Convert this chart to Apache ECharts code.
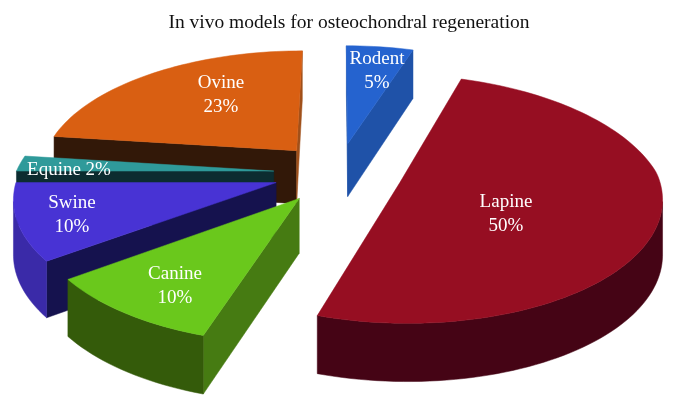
<!DOCTYPE html>
<html>
<head>
<meta charset="utf-8">
<style>
  html, body { margin: 0; padding: 0; background: #fff; }
  #chart { width: 676px; height: 410px; }
</style>
<script src="https://cdn.jsdelivr.net/npm/echarts@6/dist/echarts.min.js"></script>
</head>
<body>
<div id="chart"></div>
<script>
const categories = ['Rodent', 'Lapine', 'Canine', 'Swine', 'Equine', 'Ovine']
const percents = [5, 50, 10, 10, 2, 23]

const topColors = ['#2563cf', '#960e22', '#6ac81c', '#4833d4', '#2f9a9a', '#d95f12']
const rimColors = ['#1f52a8', '#450415', '#345b0a', '#3a2aa8', '#0c2c30', '#a0501a']
const startFaceColors = ['#1f52a8', '#450415', '#467b12', '#15124e', '#0c2c30', '#321808']
const endFaceColors = ['#1f52a8', '#450415', '#467b12', '#15124e', '#0c2c30', '#a0501a']

// label anchors, px
const labelX = [377, 506, 175, 72, 69, 221]
const labelY = [71, 214, 286, 215, 170, 95]

// fake 3d: ellipse plus a bit of perspective, front is bigger than back
const cx = 338
const cy = 173
const radius = 258
const squash = 123
const perspectiveBack = 0.165
const perspectiveFront = 0.11
const explode = 0.25
const depth = 54

const total = percents.reduce((a, b) => a + b, 0)

function project (x, y) {
  const w = 1 / (1 - y * (y < 0 ? perspectiveBack : perspectiveFront))
  return {
    top: [cx + x * radius * w, cy + y * squash * w],
    bottom: [cx + x * radius * w, cy + y * squash * w + depth * Math.pow(w, 0.6)]
  }
}

function buildSlice (idx) {
  let before = 0
  for (let i = 0; i < idx; i++) before += percents[i]
  const a0 = before / total * Math.PI * 2
  const a1 = (before + percents[idx]) / total * Math.PI * 2
  const mid = (a0 + a1) / 2
  const ox = Math.sin(mid) * explode
  const oy = -Math.cos(mid) * explode
  const rim = []
  const steps = Math.max(4, Math.round((a1 - a0) / 0.03))
  for (let s = 0; s <= steps; s++) {
    const a = a0 + (a1 - a0) * s / steps
    rim.push(project(ox + Math.sin(a), oy - Math.cos(a)))
  }
  return {apex: project(ox, oy), rim}
}

function quad (p, q, color) {
  return {
    type: 'polygon',
    shape: {points: [p.top, q.top, q.bottom, p.bottom]},
    style: {fill: color, stroke: color, lineWidth: 0.5}
  }
}

function renderSlice (params, api) {
  const idx = api.value(0)
  const {apex, rim} = buildSlice(idx)
  const last = rim[rim.length - 1]
  const children = []

  // only faces running leftwards on screen look at the viewer
  if (rim[0].top[0] < apex.top[0]) children.push(quad(apex, rim[0], startFaceColors[idx]))
  let run = []
  const flush = () => {
    if (run.length > 1) {
      const pts = run.map(p => p.top).concat(run.slice().reverse().map(p => p.bottom))
      children.push({
        type: 'polygon',
        shape: {points: pts},
        style: {fill: rimColors[idx], stroke: rimColors[idx], lineWidth: 0.5}
      })
    }
    run = []
  }
  for (let i = 0; i < rim.length - 1; i++) {
    if (rim[i + 1].top[0] < rim[i].top[0]) {
      if (!run.length) run.push(rim[i])
      run.push(rim[i + 1])
    } else {
      flush()
    }
  }
  flush()
  if (apex.top[0] < last.top[0]) children.push(quad(last, apex, endFaceColors[idx]))

  children.push({
    type: 'polygon',
    shape: {points: [apex.top].concat(rim.map(p => p.top))},
    style: {fill: topColors[idx], stroke: topColors[idx], lineWidth: 0.5}
  })
  children.push({
    type: 'text',
    x: labelX[idx],
    y: labelY[idx],
    style: {
      text: categories[idx] === 'Equine'
        ? categories[idx] + ' ' + api.value(1) + '%'
        : categories[idx] + '\n' + api.value(1) + '%',
      fill: '#fff',
      font: '19px "Liberation Serif", serif',
      lineHeight: 24,
      align: 'center',
      verticalAlign: 'middle'
    }
  })
  return {type: 'group', children}
}

// painted back to front
const seriesData = categories.map((c, i) => [i, percents[i]]).reverse()

const chart = echarts.init(document.getElementById('chart'))
chart.setOption({
  animation: false,
  backgroundColor: '#fff',
  title: {
    text: 'In vivo models for osteochondral regeneration',
    left: 344,
    textAlign: 'center',
    top: 8,
    textStyle: {
      color: '#111',
      fontFamily: '"Liberation Serif", serif',
      fontSize: 19.5,
      fontWeight: 'normal'
    }
  },
  series: [{
    type: 'custom',
    coordinateSystem: 'none',
    renderItem: renderSlice,
    data: seriesData
  }]
})
</script>
</body>
</html>
